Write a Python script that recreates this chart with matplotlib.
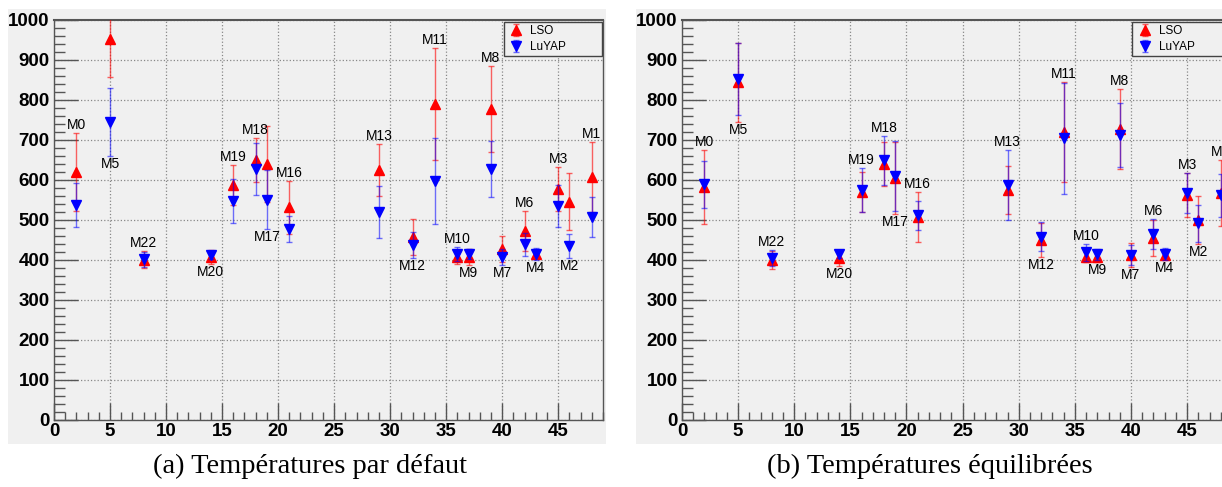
import matplotlib
matplotlib.use('Agg')
import matplotlib.pyplot as plt
from matplotlib.patches import Rectangle
from matplotlib.ticker import MultipleLocator

modules = ['M0', 'M5', 'M22', 'M20', 'M19', 'M18', 'M17', 'M16', 'M13', 'M12',
           'M11', 'M10', 'M9', 'M8', 'M7', 'M6', 'M4', 'M3', 'M2', 'M1']
positions = [2, 5, 8, 14, 16, 18, 19, 21, 29, 32, 34, 36, 37, 39, 40, 42, 43, 45, 46, 48]

# Panel (a): default temperatures
lso_a = [620, 952, 401, 408, 587, 650, 639, 532, 624, 457, 790, 407, 407, 778, 427, 472, 414, 577, 546, 608]
lso_a_err = [98, 95, 22, 18, 50, 56, 95, 66, 65, 45, 139, 18, 20, 107, 33, 50, 10, 55, 72, 87]
luyap_a = [537, 744, 402, 413, 547, 627, 551, 477, 521, 437, 597, 415, 415, 627, 408, 439, 415, 535, 435, 507]
luyap_a_err = [55, 85, 19, 10, 55, 65, 74, 33, 65, 33, 107, 18, 12, 70, 20, 28, 16, 53, 30, 50]
label_side_a = ['above', 'below', 'above', 'below', 'above', 'above', 'below', 'above', 'above', 'below',
                'above', 'above', 'below', 'above', 'below', 'above', 'below', 'above', 'below', 'above']

# Panel (b): equilibrated temperatures
lso_b = [582, 844, 400, 404, 571, 640, 605, 508, 575, 450, 719, 407, 407, 727, 412, 454, 412, 563, 500, 567]
lso_b_err = [93, 98, 22, 18, 50, 55, 90, 63, 60, 42, 125, 12, 12, 100, 30, 45, 10, 55, 60, 83]
luyap_b = [589, 852, 404, 414, 575, 649, 610, 512, 587, 458, 704, 419, 414, 712, 412, 465, 414, 568, 492, 562]
luyap_b_err = [59, 90, 20, 10, 55, 62, 88, 36, 88, 36, 139, 21, 14, 80, 25, 37, 15, 50, 46, 54]
label_side_b = ['above', 'below', 'above', 'below', 'above', 'above', 'below', 'above', 'above', 'below',
                'above', 'above', 'below', 'above', 'below', 'above', 'below', 'above', 'below', 'above']

captions = ['(a) Températures par défaut', '(b) Températures équilibrées']

W, H = 1222, 487
fig = plt.figure(figsize=(W / 100, H / 100), dpi=100)
fig.patch.set_facecolor('white')

GREY = '#f0f0f0'

def px_rect(x0, y0, x1, y1):
    return [x0 / W, 1 - y1 / H, (x1 - x0) / W, (y1 - y0) / H]

for (x0, x1) in [(8, 606), (636, 1240)]:
    r = px_rect(x0, 9, x1, 444)
    fig.patches.append(Rectangle((r[0], r[1]), r[2], r[3], transform=fig.transFigure,
                                 facecolor=GREY, edgecolor='none', zorder=-10))

panels = [
    (px_rect(54, 20, 603, 420), lso_a, lso_a_err, luyap_a, luyap_a_err, label_side_a),
    (px_rect(682, 20, 1232, 420), lso_b, lso_b_err, luyap_b, luyap_b_err, label_side_b),
]

tick_font = dict(family='Liberation Sans', weight='bold', size=13.5)

for i, (rect, lso, lso_err, lu, lu_err, sides) in enumerate(panels):
    ax = fig.add_axes(rect)
    ax.set_zorder(1)
    ax.set_facecolor(GREY)
    ax.set_xlim(0, 49)
    ax.set_ylim(0, 1000)
    ax.xaxis.set_major_locator(MultipleLocator(5))
    ax.xaxis.set_minor_locator(MultipleLocator(1))
    ax.yaxis.set_major_locator(MultipleLocator(100))
    ax.yaxis.set_minor_locator(MultipleLocator(20))
    ax.tick_params(which='both', direction='in', top=False, right=False, color='#555555')
    ax.tick_params(axis='y', which='major', length=17, width=1, pad=3)
    ax.tick_params(axis='y', which='minor', length=8, width=1)
    ax.tick_params(axis='x', which='major', length=12, width=1, pad=2)
    ax.tick_params(axis='x', which='minor', length=6, width=1)
    for lab in ax.get_xticklabels() + ax.get_yticklabels():
        lab.set_fontfamily(tick_font['family'])
        lab.set_fontweight(tick_font['weight'])
        lab.set_fontsize(tick_font['size'])
    ax.grid(True, which='major', linestyle=':', color='#888888', linewidth=0.9)
    ax.set_axisbelow(True)
    for s in ax.spines.values():
        s.set_color('#555555')
        s.set_linewidth(1.0)
    ax.spines['top'].set_linewidth(1.5)

    ax.errorbar(positions, lso, yerr=lso_err, fmt='^', color='red', ms=6.5,
                ecolor=(1, 0, 0, 0.6), elinewidth=1.0, capsize=2, capthick=1.0,
                label='LSO', zorder=3, clip_on=True)
    ax.errorbar(positions, lu, yerr=lu_err, fmt='v', color='blue', ms=6.5,
                ecolor=(0, 0, 1, 0.55), elinewidth=1.0, capsize=2, capthick=1.0,
                label='LuYAP', zorder=4, clip_on=True)

    for name, x, a, ae, b, be, side in zip(modules, positions, lso, lso_err, lu, lu_err, sides):
        if side == 'above':
            y = max(a + ae, b + be) + 20
        else:
            y = min(a - ae, b - be) - 20
        ax.text(x, y, name, ha='center', va='center', fontsize=10,
                family='Liberation Sans', color='black', zorder=5, clip_on=False)

    leg = ax.legend(loc='upper left', bbox_to_anchor=(0.819, 0.9075, 0.179, 0.0875),
                    mode='expand', borderaxespad=0, handletextpad=0.4,
                    frameon=True, fancybox=False, handlelength=1.6,
                    borderpad=0.25, labelspacing=0.35,
                    prop={'family': 'Liberation Sans', 'size': 8.5})
    leg.get_frame().set_facecolor(GREY)
    leg.get_frame().set_edgecolor('#444444')
    leg.get_frame().set_linewidth(1.0)
    leg.get_frame().set_alpha(1)

    cx = 310 / W if i == 0 else 930 / W
    fig.text(cx, 1 - 466 / H, captions[i], ha='center', va='center',
             family='Liberation Serif', fontsize=20.5)

fig.savefig('out.png', dpi=100)
